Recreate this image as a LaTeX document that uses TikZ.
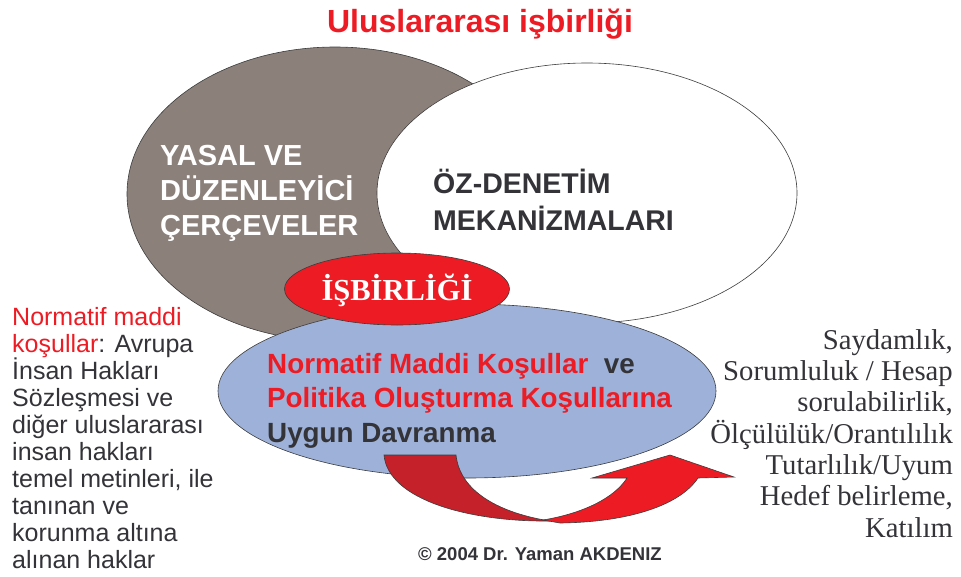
\documentclass[tikz,border=0pt]{standalone}
\usepackage{fontspec}
\setmainfont{Liberation Sans}
\newfontfamily\timesfont{Liberation Serif}
\usetikzlibrary{shapes.geometric}

\definecolor{kahve}{RGB}{140,128,123}
\definecolor{mavi}{RGB}{158,177,216}
\definecolor{kirmizi}{RGB}{237,28,36}
\definecolor{koyukirmizi}{RGB}{196,33,42}
\definecolor{koyugri}{RGB}{51,51,56}
\definecolor{cizgi}{RGB}{60,60,60}

\begin{document}
\begin{tikzpicture}[%
x=1pt, y=-1pt,
venn/.style={ellipse, draw=cizgi, line width=0.6pt, inner sep=0pt},
kalin/.style 2 args={font=\bfseries\fontsize{#1}{#2}\selectfont, inner sep=0pt},
serbest/.style={inner sep=0pt, text=koyugri},
]
\useasboundingbox (0,0) rectangle (961,576);
%% ellipses;
\node [venn, fill=kahve, minimum width=416pt, minimum height=294pt] (yasal) at (335,194) {};
\node [venn, fill=white, minimum width=420pt, minimum height=260pt] (ozdenetim) at (587,193) {};
\node [venn, fill=mavi, minimum width=498pt, minimum height=174pt] (davranma) at (467,391) {};
\node [venn, fill=kirmizi, minimum width=225pt, minimum height=72pt] (isbirligi) at (397,289) {};
%% arrow, left part;
\draw [cizgi, line width=0.6pt, fill=koyukirmizi] (384,455) -- (456,455)
  .. controls (460,492) and (500,513) .. (550,521)
  .. controls (470,522) and (388,500) .. (384,455) -- cycle;
%% arrow, right part;
\draw [cizgi, line width=0.6pt, fill=kirmizi] (543,520)
  .. controls (585,513) and (615,497) .. (627,478) -- (592,478) -- (670,455)
  -- (734,477) -- (698,478)
  .. controls (680,505) and (630,522) .. (560,523) -- cycle;
%% title;
\node [kalin={32}{36}, text=kirmizi, anchor=base] (title) at (480,32) {Uluslararası işbirliği};
%% labels (base = last line);
\node [kalin={29}{35}, text=white, anchor=base west, align=left] (yasaltext) at (160,235)
  {YASAL VE\\DÜZENLEYİCİ\\ÇERÇEVELER};
\node [kalin={28.5}{37}, text=koyugri, anchor=base west, align=left] (oztext) at (433,230)
  {ÖZ-DENETİM\\MEKANİZMALARI};
\node [font=\timesfont\bfseries\fontsize{30.5}{36}\selectfont, text=white, anchor=base, inner sep=0pt] (isbtext) at (397,300) {İŞBİRLİĞİ};
\node [kalin={27.8}{34.5}, text=koyugri, anchor=base west, align=left] (davtext) at (267,442)
  {\textcolor{kirmizi}{Normatif Maddi Koşullar}\ \ ve\\
   \textcolor{kirmizi}{Politika Oluşturma Koşullarına}\\
   Uygun Davranma};
\node [serbest, font=\fontsize{25}{27}\selectfont, anchor=base west, align=left] (normatif) at (12,568)
  {\textcolor{kirmizi}{Normatif maddi}\\
   \textcolor{kirmizi}{koşullar}: Avrupa\\
   İnsan Hakları\\
   Sözleşmesi ve\\
   diğer uluslararası\\
   insan hakları\\
   temel metinleri, ile\\
   tanınan ve\\
   korunma altına\\
   alınan haklar};
\node [serbest, font=\timesfont\fontsize{28.7}{31.3}\selectfont, anchor=base east, align=right] (ilkeler) at (953,537)
  {Saydamlık,\\
   Sorumluluk / Hesap\\
   sorulabilirlik,\\
   Ölçülülük/Orantılılık\\
   Tutarlılık/Uyum\\
   Hedef belirleme,\\
   Katılım};
\node [kalin={18.5}{20}, text=koyugri, anchor=base] (telif) at (540,560) {© 2004 Dr. Yaman AKDENIZ};
\end{tikzpicture}
\end{document}
